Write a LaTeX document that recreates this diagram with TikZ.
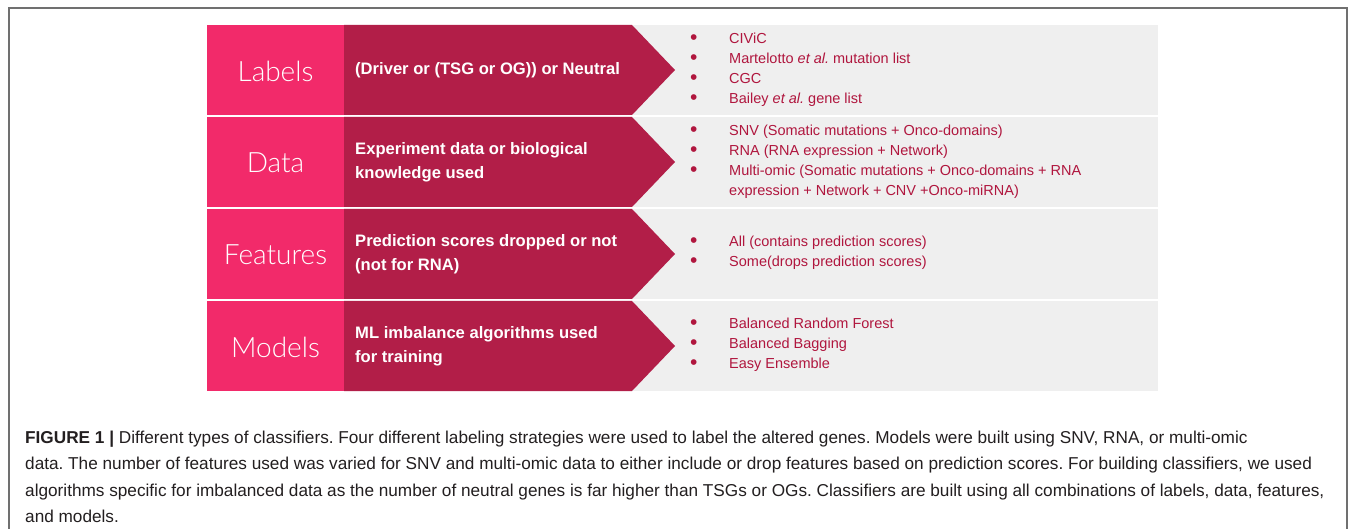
\documentclass[tikz,border=0pt]{standalone}
\usepackage{fontspec}
\setmainfont{Liberation Sans}
\newfontfamily\lightfont{Lato Light}
\definecolor{pinkc}{RGB}{242,42,106}
\definecolor{darkc}{RGB}{178,30,72}
\definecolor{grayc}{RGB}{239,239,239}
\definecolor{listc}{RGB}{176,22,62}
\definecolor{capc}{RGB}{35,31,32}
\definecolor{framec}{RGB}{112,112,112}
\newcommand\bul{\makebox[39pt][l]{\raisebox{-0.5pt}{\scalebox{1.45}{\textbullet}}}}
\newcommand\nobul{\makebox[39pt][l]{}}
\tikzset{
  lbl/.style={text=white, font=\lightfont\fontsize{28}{30}\selectfont, inner sep=0pt},
  midtxt/.style={text=white, font=\bfseries\fontsize{16.6}{24}\selectfont, align=left, anchor=west, inner sep=0pt},
  lsttxt/.style={text=listc, font=\fontsize{14.5}{20}\selectfont, align=left, anchor=west, inner sep=0pt},
  captxt/.style={text=capc, font=\fontsize{17.2}{26.2}\selectfont, align=left, anchor=north west, inner sep=0pt},
}
\begin{document}
\frenchspacing
\begin{tikzpicture}[x=1pt,y=-1pt]
\useasboundingbox (0,0) rectangle (1355,529);
\fill[white] (0,0) rectangle (1355,529);
\draw[framec, line width=1.2pt] (9,529) -- (9,8) -- (1347,8) -- (1347,529);
\foreach \T in {25,117,209,301}{
  \fill[grayc] (600,\T) rectangle (1158,\T+90);
  \fill[pinkc] (207,\T) rectangle (344,\T+90);
  \fill[darkc] (344,\T) -- (632,\T) -- (675,\T+45) -- (632,\T+90) -- (344,\T+90) -- cycle;
}
% row 1
\node[lbl] (lab1) at (275.5,71) {Labels};
\node[midtxt] (mid1) at (355,70) {(Driver or (TSG or OG)) or Neutral};
\node[lsttxt] (lst1) at (690,70) {\bul CIViC\\ \bul Martelotto \textit{et al.} mutation list\\ \bul CGC\\ \bul Bailey \textit{et al.} gene list};
% row 2
\node[lbl] (lab2) at (275.5,163) {Data};
\node[midtxt] (mid2) at (355,162) {Experiment data or biological\\knowledge used};
\node[lsttxt] (lst2) at (690,162) {\bul SNV (Somatic mutations + Onco-domains)\\ \bul RNA (RNA expression + Network)\\ \bul Multi-omic (Somatic mutations + Onco-domains + RNA\\ \nobul expression + Network + CNV +Onco-miRNA)};
% row 3
\node[lbl] (lab3) at (275.5,255) {Features};
\node[midtxt] (mid3) at (355,254) {Prediction scores dropped or not\\(not for RNA)};
\node[lsttxt] (lst3) at (690,253) {\bul All (contains prediction scores)\\ \bul Some(drops prediction scores)};
% row 4
\node[lbl] (lab4) at (275.5,347) {Models};
\node[midtxt] (mid4) at (355,346) {ML imbalance algorithms used\\for training};
\node[lsttxt] (lst4) at (690,345) {\bul Balanced Random Forest\\ \bul Balanced Bagging\\ \bul Easy Ensemble};
% caption
\node[captxt] (cap) at (25,431) {\textbf{FIGURE 1 |} Different types of classifiers. Four different labeling strategies were used to label the altered genes. Models were built using SNV, RNA, or multi-omic\\data. The number of features used was varied for SNV and multi-omic data to either include or drop features based on prediction scores. For building classifiers, we used\\algorithms specific for imbalanced data as the number of neutral genes is far higher than TSGs or OGs. Classifiers are built using all combinations of labels, data, features,\\and models.};
\end{tikzpicture}
\end{document}
